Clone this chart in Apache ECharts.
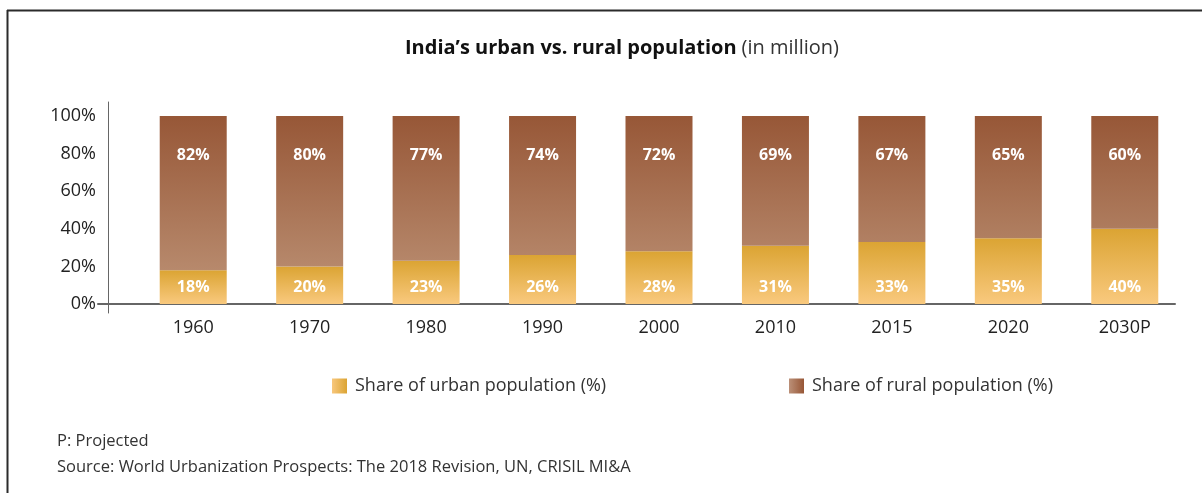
<!DOCTYPE html>
<html>
<head>
<meta charset="utf-8">
<script src="https://cdn.jsdelivr.net/npm/echarts@6/dist/echarts.min.js"></script>
<style>
  html, body { margin: 0; padding: 0; background: #fff; }
  #chart { width: 1202px; height: 493px; }
</style>
</head>
<body>
<div id="chart"></div>
<script>
// India: share of urban vs rural population (%)
const years = ['1960', '1970', '1980', '1990', '2000', '2010', '2015', '2020', '2030P'];
const urbanShare = [18, 20, 23, 26, 28, 31, 33, 35, 40];
const ruralShare = [82, 80, 77, 74, 72, 69, 67, 65, 60];
const yTicks = [0, 20, 40, 60, 80, 100];
const seriesNames = ['Share of urban population (%)', 'Share of rural population (%)'];

const FONT = '"Open Sans", "Noto Sans", sans-serif';

// Rural shading darkens toward 100%: top colour fixed, bottom colour depends on how far the segment reaches
const ruralTop = [151, 87, 55];
const ruralBottomFull = [190, 148, 120];
function mix(a, b, t) {
  return 'rgb(' + a.map((v, i) => Math.round(v + (b[i] - v) * t)).join(',') + ')';
}
function ruralColor(share) {
  return new echarts.graphic.LinearGradient(0, 0, 0, 1, [
    { offset: 0, color: mix(ruralTop, ruralTop, 0) },
    { offset: 1, color: mix(ruralTop, ruralBottomFull, share / 100) }
  ]);
}
const urbanGradient = new echarts.graphic.LinearGradient(0, 0, 0, 1, [
  { offset: 0, color: '#dba433' },
  { offset: 1, color: '#f9c97e' }
]);

const legendBase = {
  top: 372,
  itemWidth: 15,
  itemHeight: 15,
  icon: 'rect',
  textStyle: { fontFamily: FONT, fontSize: 18, color: '#333', padding: [0, 0, 0, 3] }
};

const chart = echarts.init(document.getElementById('chart'), null, { renderer: 'canvas' });

chart.setOption({
  backgroundColor: '#ffffff',
  animation: false,
  title: {
    left: 400,
    top: 33,
    text: '{b|India’s urban vs. rural population} {n|(in million)}',
    textStyle: {
      rich: {
        b: { fontFamily: FONT, fontSize: 20, fontWeight: 'bold', color: '#111' },
        n: { fontFamily: FONT, fontSize: 20, fontWeight: 'normal', color: '#333' }
      }
    }
  },
  legend: [
    Object.assign({}, legendBase, {
      left: 327,
      data: [{
        name: seriesNames[0],
        itemStyle: { color: new echarts.graphic.LinearGradient(0, 0, 1, 0, [
          { offset: 0, color: '#f8c77c' }, { offset: 1, color: '#dba433' }]) }
      }]
    }),
    Object.assign({}, legendBase, {
      left: 784,
      data: [{
        name: seriesNames[1],
        itemStyle: { color: new echarts.graphic.LinearGradient(0, 0, 1, 0, [
          { offset: 0, color: '#bb9078' }, { offset: 1, color: '#975636' }]) }
      }]
    })
  ],
  graphic: [
    // frame: top and left rules
    { type: 'line', shape: { x1: 7, y1: 10.5, x2: 1202, y2: 10.5 }, style: { stroke: '#2b2b2b', lineWidth: 2 } },
    { type: 'line', shape: { x1: 7.5, y1: 10, x2: 7.5, y2: 493 }, style: { stroke: '#2b2b2b', lineWidth: 2 } },
    { type: 'text', left: 57, top: 433, style: { text: 'P: Projected', fontFamily: FONT, fontSize: 16.5, fill: '#333' } },
    { type: 'text', left: 57, top: 459, style: { text: 'Source: World Urbanization Prospects: The 2018 Revision, UN, CRISIL MI&A', fontFamily: FONT, fontSize: 16.5, fill: '#333' } }
  ],
  grid: [
    // bars
    { left: 135, right: 19, top: 116, bottom: 189 },
    // axis rules, which run a little past the plotted range
    { left: 98, right: 27, top: 102, bottom: 180 }
  ],
  xAxis: [
    {
      type: 'category',
      gridIndex: 0,
      data: years,
      axisLine: { show: false },
      axisTick: { show: false },
      axisLabel: { fontFamily: FONT, fontSize: 18, color: '#222', margin: 15 }
    },
    {
      type: 'value',
      gridIndex: 1,
      min: 0,
      max: 1,
      axisLine: { show: true, onZero: true, lineStyle: { color: '#666', width: 2 } },
      axisTick: { show: false },
      axisLabel: { show: false },
      splitLine: { show: false }
    }
  ],
  yAxis: [
    {
      type: 'value',
      gridIndex: 0,
      min: 0,
      max: 100,
      interval: 20,
      offset: 27,
      axisLine: { show: false },
      axisTick: { show: false },
      splitLine: { show: false },
      axisLabel: {
        fontFamily: FONT, fontSize: 18, color: '#222', margin: 12,
        formatter: v => (yTicks.includes(v) ? v + '%' : '')
      }
    },
    {
      type: 'value',
      gridIndex: 1,
      min: -5,
      max: 107.5,
      offset: -10,
      axisLine: { show: true, lineStyle: { color: '#666', width: 1 } },
      axisTick: { show: false },
      axisLabel: { show: false },
      splitLine: { show: false }
    }
  ],
  series: [
    {
      name: seriesNames[0],
      type: 'bar',
      stack: 'share',
      xAxisIndex: 0,
      yAxisIndex: 0,
      barWidth: 67,
      data: urbanShare,
      itemStyle: { color: urbanGradient },
      label: {
        show: true,
        position: 'insideBottom',
        distance: 9,
        formatter: '{c}%',
        fontFamily: FONT, fontSize: 16, fontWeight: 'bold', color: '#fff'
      }
    },
    {
      name: seriesNames[1],
      type: 'bar',
      stack: 'share',
      xAxisIndex: 0,
      yAxisIndex: 0,
      barWidth: 67,
      data: ruralShare.map(v => ({ value: v, itemStyle: { color: ruralColor(v) } })),
      itemStyle: { color: '#975636' },
      label: {
        show: true,
        position: 'insideTop',
        distance: 31,
        formatter: '{c}%',
        fontFamily: FONT, fontSize: 16, fontWeight: 'bold', color: '#fff'
      }
    }
  ]
});
</script>
</body>
</html>
